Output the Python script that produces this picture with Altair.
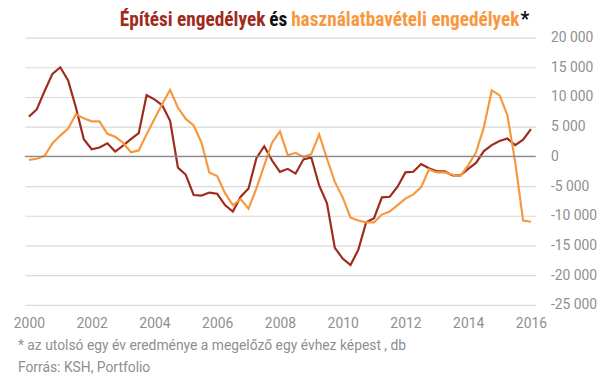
import altair as alt
import pandas as pd

quarters = [2000 + k / 4 for k in range(65)]

epitesi = [6700, 7900, 11000, 13900, 15000, 12800, 8200, 2900, 1200, 1500,
           2200, 800, 1800, 2900, 3900, 10300, 9600, 8600, 6000, -1900,
           -3100, -6500, -6600, -6100, -6300, -8200, -9300, -6800, -5400, -300,
           1700, -700, -2600, -2100, -2900, -500, -200, -4900, -7900, -15400,
           -17200, -18300, -15700, -11100, -10400, -6900, -6800, -5100, -2700, -2600,
           -1300, -2000, -2500, -2500, -3200, -3200, -2100, -1100, 900, 1900,
           2600, 3000, 1900, 2800, 4600]

hasznalat = [-600, -400, 100, 2200, 3500, 4700, 7100, 6400, 5900, 5900,
             3800, 3300, 2300, 700, 1000, 3700, 6300, 8800, 11200, 8200,
             6300, 5200, 2300, -2700, -3300, -6200, -8200, -7200, -8800, -5400,
             -1500, 2300, 4200, 200, 600, -100, 400, 3700, -400, -4300,
             -6900, -10300, -10800, -11100, -11100, -9800, -9300, -8200, -7100, -6400,
             -5200, -2200, -2700, -2700, -3100, -3300, -1500, 700, 4900, 11100,
             10300, 6900, -1000, -10800, -11000]

series_names = ["Építési engedélyek", "használatbavételi engedélyek"]
series_colors = ["#9e2b1d", "#f7983f"]
x_ticks = list(range(2000, 2017, 2))
y_ticks = list(range(-25000, 20001, 5000))

title_parts = ["Építési engedélyek", "és", "használatbavételi engedélyek", "*"]
footnotes = ["* az utolsó egy év eredménye a megelőző egy évhez képest , db",
             "Forrás: KSH, Portfolio"]

df = pd.DataFrame({
    "ev": quarters * 2,
    "ertek": epitesi + hasznalat,
    "sorozat": [series_names[0]] * len(quarters) + [series_names[1]] * len(quarters),
})

TFONT = "Liberation Sans Narrow, Roboto Condensed, Roboto"
LFONT = "Roboto"
GRAY = "#8f8f8f"

x_scale = alt.Scale(domain=[1999.87, 2016.15], nice=False, zero=False)
y_scale = alt.Scale(domain=[-25000, 20000], nice=False)

y_axis = alt.Axis(orient="right", values=y_ticks, title=None,
                  labelExpr="replace(replace(format(datum.value, ','), ',', ' '), '−', '-')",
                  grid=True, gridColor="#dadada", gridWidth=1.2,
                  labelOverlap=False, labelBound=False,
                  ticks=False, domain=False, labelPadding=15, labelAlign="left",
                  labelFontSize=14, labelColor=GRAY, labelFont=LFONT)

lines = alt.Chart(df).mark_line(strokeWidth=2.2).encode(
    x=alt.X("ev:Q", scale=x_scale,
            axis=alt.Axis(values=x_ticks, labelExpr="'' + datum.value", title=None,
                          grid=False, ticks=False, domain=False, labelPadding=12,
                          labelOverlap=False,
                          labelFontSize=14, labelColor=GRAY, labelFont=LFONT)),
    y=alt.Y("ertek:Q", scale=y_scale, axis=y_axis),
    color=alt.Color("sorozat:N", scale=alt.Scale(domain=series_names, range=series_colors),
                    legend=None),
)

zero = alt.Chart(pd.DataFrame({"ertek": [0]})).mark_rule(color="#888888", strokeWidth=1.3).encode(
    y=alt.Y("ertek:Q", scale=y_scale, axis=y_axis)
)

title_df = pd.DataFrame({"t": title_parts,
                         "c": [series_colors[0], "#111111", series_colors[1], "#111111"]})

def title_text(i, xpos, align):
    return alt.Chart(title_df.iloc[[i]]).mark_text(
        font=TFONT, fontSize=19.5, fontWeight="bold", align=align, baseline="alphabetic",
        color=title_df["c"].iloc[i]
    ).encode(text="t:N", x=alt.value(xpos), y=alt.value(-12))

t1 = title_text(0, 243, "right")
t2 = title_text(1, 256, "center")
t3 = title_text(2, 269, "left")
t4 = title_text(3, 505, "center")

foot_df = pd.DataFrame({"t": footnotes})
f1 = alt.Chart(foot_df.iloc[[0]]).mark_text(
    font=LFONT, fontSize=14, align="left", baseline="alphabetic", color=GRAY
).encode(text="t:N", x=alt.value(-7), y=alt.value(316))
f2 = alt.Chart(foot_df.iloc[[1]]).mark_text(
    font=LFONT, fontSize=14, align="left", baseline="alphabetic", color=GRAY
).encode(text="t:N", x=alt.value(-7), y=alt.value(338))

chart = alt.layer(lines, zero, t1, t2, t3, t4, f1, f2).resolve_scale(color="independent").properties(
    width=516, height=270,
    autosize=alt.AutoSizeParams(type="none"),
    padding={"left": 17, "top": 28, "right": 64, "bottom": 72},
).configure(background="white").configure_view(stroke=None).configure_axis(labelOverlap=False)

chart.save("out.html", embed_options={"renderer": "svg", "actions": False})
